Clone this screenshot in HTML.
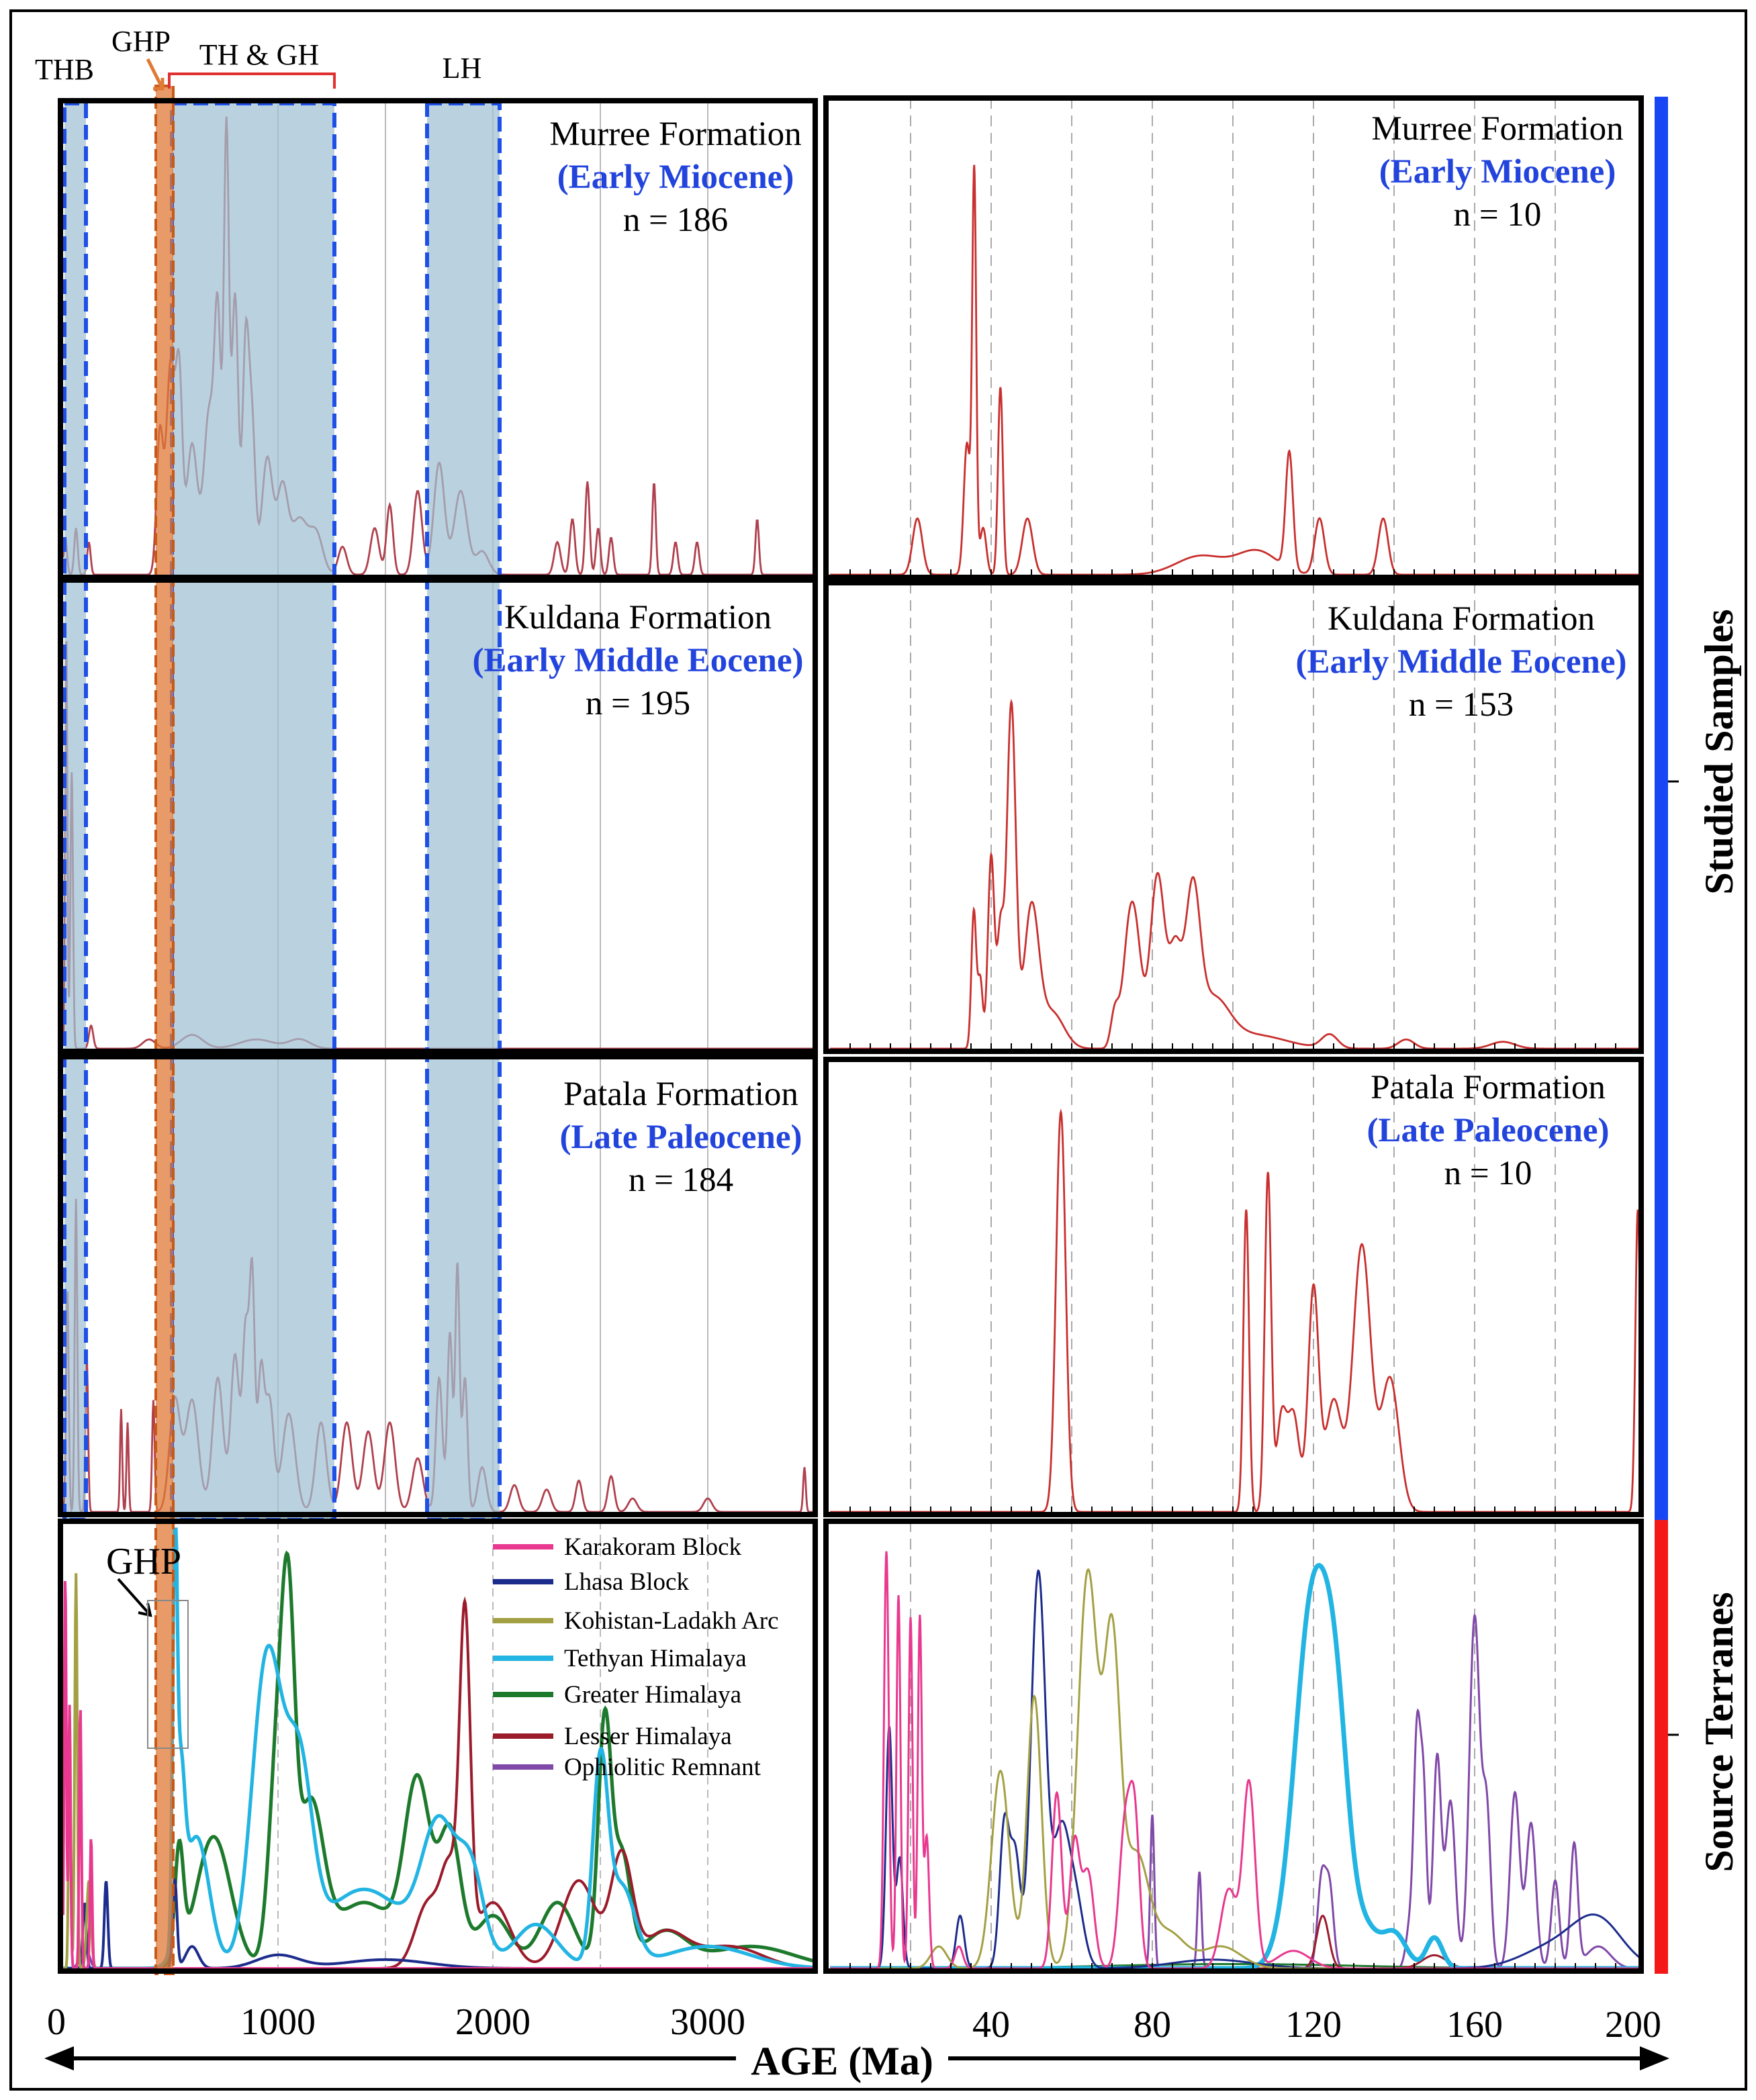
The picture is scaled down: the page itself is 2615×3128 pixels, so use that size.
<!DOCTYPE html>
<html><head><meta charset="utf-8"><style>
html,body{margin:0;padding:0;background:#fff}
svg{display:block}
text{font-family:"Liberation Serif",serif}
</style></head><body>
<svg id="chart" width="2615" height="3128" viewBox="0 0 1307.5 1564" xmlns="http://www.w3.org/2000/svg">
<rect x="8" y="8" width="1292" height="1548" fill="#fff" stroke="#000" stroke-width="2"/>
<g id="grid"></g>
<g id="curves"></g>
<g id="shading"></g>
<g id="frames"></g>
<g id="labels"></g>
</svg>
<script>
// ----- data: KDE peaks [age (Ma), relative height, width (Ma)] -----
const murreeLeftPeaks=[[10,0.08,8],[60,0.1,8],[120,0.07,8],[450,0.3,15],[500,0.45,20],[540,0.4,15],[600,0.28,25],[680,0.35,25],[720,0.5,15],[760,0.95,12],[800,0.6,15],[850,0.5,15],[880,0.3,15],[950,0.25,25],[1020,0.18,25],[1100,0.12,40],[1180,0.08,30],[1300,0.06,20],[1450,0.1,20],[1520,0.15,15],[1650,0.18,20],[1750,0.24,25],[1850,0.18,30],[1950,0.05,30],[2300,0.07,15],[2370,0.12,12],[2440,0.2,10],[2490,0.1,10],[2550,0.08,10],[2750,0.2,8],[2850,0.07,10],[2950,0.07,10],[3230,0.12,8]];
const kuldanaLeftPeaks=[[15,0.9,5],[40,0.6,6],[130,0.05,10],[400,0.02,30],[600,0.03,50],[900,0.02,80],[1100,0.02,50]];
const patalaLeftPeaks=[[20,0.5,6],[60,0.7,6],[110,0.35,6],[270,0.23,5],[300,0.2,5],[420,0.25,6],[520,0.25,25],[600,0.25,30],[720,0.3,25],[800,0.35,20],[850,0.4,15],[880,0.5,12],[920,0.3,15],[960,0.25,20],[1050,0.22,30],[1200,0.2,25],[1320,0.2,25],[1420,0.18,25],[1520,0.2,25],[1650,0.12,25],[1750,0.3,15],[1800,0.4,12],[1835,0.55,10],[1870,0.3,12],[1950,0.1,20],[2100,0.06,20],[2250,0.05,20],[2400,0.07,15],[2550,0.08,15],[2650,0.03,20],[3000,0.03,20],[3450,0.1,6]];
const karakoramLeftPeaks=[[10,0.9,5],[30,0.6,5],[80,0.6,5],[130,0.3,5]];
const lhasaLeftPeaks=[[100,0.15,8],[200,0.2,8],[520,0.2,10],[600,0.05,30],[1000,0.03,100],[1500,0.02,200]];
const kohistanLeftPeaks=[[60,0.9,6],[30,0.5,5],[120,0.2,10]];
const tethyanLeftPeaks=[[520,0.85,10],[545,0.35,20],[620,0.3,60],[950,0.7,70],[1100,0.4,60],[1400,0.18,200],[1750,0.3,80],[1900,0.2,60],[2200,0.1,100],[2500,0.45,35],[2600,0.18,60],[3000,0.05,200]];
const greaterLeftPeaks=[[540,0.25,20],[700,0.3,80],[1000,0.5,40],[1050,0.6,30],[1150,0.35,60],[1400,0.15,150],[1650,0.4,60],[1800,0.3,50],[2000,0.12,80],[2300,0.15,80],[2520,0.55,30],[2600,0.25,40],[2800,0.08,100],[3200,0.05,200]];
const lesserLeftPeaks=[[1700,0.15,60],[1870,0.75,25],[1800,0.2,40],[2000,0.15,80],[2400,0.2,80],[2600,0.25,50],[2800,0.08,100],[3100,0.05,150]];
const ophioliticLeftPeaks=[[100,0.05,20]];

const murreeRightPeaks=[[21.7,0.12,1.2],[34,0.28,0.8],[35.8,0.85,0.5],[38,0.1,0.8],[42.3,0.4,0.6],[49,0.12,1.3],[92,0.04,6],[106,0.05,5],[114,0.25,0.9],[121.5,0.12,1.2],[137.3,0.12,1.2]];
const kuldanaRightPeaks=[[35.7,0.3,0.6],[37.3,0.15,0.6],[40,0.42,0.8],[42.3,0.25,0.8],[45,0.75,1.1],[50,0.3,1.8],[55,0.08,3],[70.7,0.08,1],[74,0.2,1.5],[76,0.2,1.5],[81.3,0.38,1.8],[85.7,0.2,1.5],[90,0.32,1.8],[95,0.1,4],[105,0.03,8],[124,0.03,2],[143,0.02,2],[167,0.015,3]];
const patalaRightPeaks=[[57.3,0.9,1.2],[103.3,0.68,0.7],[108.7,0.76,0.8],[112,0.2,1.2],[115,0.22,1.5],[120,0.5,1.3],[125,0.25,2],[132,0.6,2.2],[139,0.3,2.2],[200.5,0.68,0.6]];
const karakoramRightPeaks=[[14,0.95,0.6],[17,0.85,0.5],[20,0.8,0.5],[22.3,0.8,0.5],[24,0.3,0.6],[32,0.05,1],[56.3,0.4,1.2],[60.7,0.28,1.2],[64,0.22,1.5],[73.3,0.33,1.5],[75.7,0.3,1.2],[99,0.18,2],[104,0.42,1.5],[115,0.04,4]];
const lhasaRightPeaks=[[14.7,0.55,0.8],[17.3,0.25,0.8],[32.3,0.12,1],[43.3,0.33,1.2],[46,0.25,1.2],[51.7,0.9,1.8],[57.3,0.3,2],[61,0.15,2],[95,0.02,10],[180,0.05,8],[190.7,0.1,6]];
const kohistanRightPeaks=[[27,0.05,2],[42.3,0.45,2.2],[50.7,0.62,1.8],[64,0.9,2.5],[70,0.72,2],[76,0.25,3],[84,0.08,4],[97,0.05,5]];
const tethyanRightPeaks=[[120,0.85,4.5],[126,0.35,3],[133,0.08,3],[140,0.08,3],[150,0.07,2]];
const greaterRightPeaks=[[100,0.01,30]];
const lesserRightPeaks=[[122.3,0.12,1.5],[150,0.03,3]];
const ophioliticRightPeaks=[[80,0.35,0.5],[91.7,0.22,0.5],[122,0.2,1],[124,0.18,1],[144,0.1,1],[145.7,0.5,0.8],[147.3,0.4,0.8],[150.7,0.48,1],[154,0.38,1.2],[160,0.8,1.3],[163,0.35,1],[170,0.4,1.2],[174,0.33,1.2],[180,0.2,1],[184.7,0.28,0.9],[190.7,0.05,3]];

const leftTicks=[0,1000,2000,3000];
const rightTicks=[40,80,120,160,200];
const legendNames=["Karakoram Block","Lhasa Block","Kohistan-Ladakh Arc","Tethyan Himalaya","Greater Himalaya","Lesser Himalaya","Ophiolitic Remnant"];
const legendColors=["#e8388f","#1c2c8c","#a3a043","#22b4e2","#1d7a2c","#9c1b2b","#8048a8"];

// ----- geometry -----
const NS="http://www.w3.org/2000/svg";
const xL=a=>47+a*0.16;
const xR=a=>618+a*3.0;
const leftPanels=[[75,430],[432,783],[787,1128],[1133,1468]];
const rightPanels=[[73,430],[434,783],[789,1128],[1133,1468]];
function el(tag,attrs,parent){const e=document.createElementNS(NS,tag);for(const k in attrs)e.setAttribute(k,attrs[k]);parent.appendChild(e);return e;}
function kdePath(peaks,xf,amin,amax,step,panel){
  const [top,bot]=panel,h=bot-top;let d="";
  for(let a=amin;a<=amax+1e-9;a+=step){
    let v=0;for(const p of peaks){const z=(a-p[0])/p[2];v+=p[1]*Math.exp(-0.5*z*z);}
    v=Math.min(v,1);
    d+=(d?"L":"M")+xf(a).toFixed(2)+","+(bot-2-v*(h-8)).toFixed(2);
  }
  return d;
}
const G=id=>document.getElementById(id);
const grid=G("grid"),curves=G("curves"),shading=G("shading"),frames=G("frames"),labels=G("labels");

for(const a of [1000,1500,2000,2500,3000]){
  for(const p of leftPanels){
    const g=el("line",{x1:xL(a),x2:xL(a),y1:p[0],y2:p[1],stroke:"#bbb","stroke-width":1,"stroke-dasharray":p===leftPanels[3]?"6,4":"none"},grid);
    
    
  }
}
for(let a=20;a<=180;a+=20){
  for(const p of rightPanels){
    const g=el("line",{x1:xR(a),x2:xR(a),y1:p[0],y2:p[1],stroke:"#aaa","stroke-width":1,"stroke-dasharray":"8,5"},grid);
    
    
  }
}

const sampleSets=[
 [murreeLeftPeaks,xL,0,3500,4,leftPanels[0],"murree-left-curve","#b0404e"],
 [kuldanaLeftPeaks,xL,0,3500,2,leftPanels[1],"kuldana-left-curve","#b0404e"],
 [patalaLeftPeaks,xL,0,3500,3,leftPanels[2],"patala-left-curve","#b0404e"],
 [murreeRightPeaks,xR,0,201,0.1,rightPanels[0],"murree-right-curve","#c8302e"],
 [kuldanaRightPeaks,xR,0,201,0.1,rightPanels[1],"kuldana-right-curve","#c8302e"],
 [patalaRightPeaks,xR,0,201,0.1,rightPanels[2],"patala-right-curve","#c8302e"]];
for(const s of sampleSets){
  const p=el("path",{d:kdePath(s[0],s[1],s[2],s[3],s[4],s[5]),fill:"none",stroke:s[7],"stroke-width":1.4},curves);
  
  
}
const leftSrc=[karakoramLeftPeaks,lhasaLeftPeaks,kohistanLeftPeaks,tethyanLeftPeaks,greaterLeftPeaks,lesserLeftPeaks,ophioliticLeftPeaks];
const rightSrc=[karakoramRightPeaks,lhasaRightPeaks,kohistanRightPeaks,tethyanRightPeaks,greaterRightPeaks,lesserRightPeaks,ophioliticRightPeaks];
const order=[6,4,5,3,1,2,0];
for(const i of order){
  const pl=el("path",{d:kdePath(leftSrc[i],xL,0,3500,3,leftPanels[3]),fill:"none",stroke:legendColors[i],"stroke-width":i===3||i===4?2.6:2},curves);
  
  
  const pr=el("path",{d:kdePath(rightSrc[i],xR,0,201,0.1,rightPanels[3]),fill:"none",stroke:legendColors[i],"stroke-width":i===3?3.5:1.5},curves);
  
  
}

const boxes=[[48,64,"thb-box"],[128,249,"th-gh-box"],[318,372,"lh-box"]];
for(const b of boxes){
  const r=el("rect",{x:b[0],y:77,width:b[1]-b[0],height:1055,fill:"#9fc0d3","fill-opacity":0.72,stroke:"#1e4fe6","stroke-width":3,"stroke-dasharray":"11,5"},shading);
  
  
}
const ghp=el("rect",{x:116,y:64,width:13,height:1406,fill:"#e07a35","fill-opacity":0.75,stroke:"#c85a18","stroke-width":2,"stroke-dasharray":"9,4"},shading);



for(const p of leftPanels){const r=el("rect",{x:45,y:p[0],width:562,height:p[1]-p[0],fill:"none",stroke:"#000","stroke-width":4},frames);
 }
for(const p of rightPanels){const r=el("rect",{x:615,y:p[0],width:607,height:p[1]-p[0],fill:"none",stroke:"#000","stroke-width":4},frames);
 }
for(const p of rightPanels){for(let a=5;a<200;a+=5){const t=el("line",{x1:xR(a),x2:xR(a),y1:p[1]-2,y2:p[1]-6,stroke:"#000","stroke-width":1},frames);
 }}

const sb=el("rect",{x:1232,y:72,width:10,height:1060,fill:"#1846f5"},frames);

const st=el("rect",{x:1232,y:1132,width:10,height:338,fill:"#f51818"},frames);

el("line",{x1:1242,x2:1250,y1:582,y2:582,stroke:"#000","stroke-width":1.5},frames);
el("line",{x1:1242,x2:1250,y1:1292,y2:1292,stroke:"#000","stroke-width":1.5},frames);

function txt(s,x,y,size,opts,name){const t=el("text",Object.assign({x:x,y:y,"font-size":size,"text-anchor":"middle",fill:"#000"},opts||{}),labels);t.textContent=s;
 return t;}
const blue="#2244dd";
const FS=25.5;
txt("Murree Formation",503,108,FS,{},"murree-left-title");
txt("(Early Miocene)",503,140,FS,{fill:blue,"font-weight":"bold"},"murree-left-age");
txt("n = 186",503,172,FS,{},"murree-left-n");
txt("Kuldana Formation",475,468,FS,{},"kuldana-left-title");
txt("(Early Middle Eocene)",475,500,FS,{fill:blue,"font-weight":"bold"},"kuldana-left-age");
txt("n = 195",475,532,FS,{},"kuldana-left-n");
txt("Patala Formation",507,823,FS,{},"patala-left-title");
txt("(Late Paleocene)",507,855,FS,{fill:blue,"font-weight":"bold"},"patala-left-age");
txt("n = 184",507,887,FS,{},"patala-left-n");
txt("Murree Formation",1115,104,FS,{},"murree-right-title");
txt("(Early Miocene)",1115,136,FS,{fill:blue,"font-weight":"bold"},"murree-right-age");
txt("n = 10",1115,168,FS,{},"murree-right-n");
txt("Kuldana Formation",1088,469,FS,{},"kuldana-right-title");
txt("(Early Middle Eocene)",1088,501,FS,{fill:blue,"font-weight":"bold"},"kuldana-right-age");
txt("n = 153",1088,533,FS,{},"kuldana-right-n");
txt("Patala Formation",1108,818,FS,{},"patala-right-title");
txt("(Late Paleocene)",1108,850,FS,{fill:blue,"font-weight":"bold"},"patala-right-age");
txt("n = 10",1108,882,FS,{},"patala-right-n");

txt("THB",48,59,22,{},"thb-label");
txt("GHP",105,38,22,{},"ghp-label");
txt("TH & GH",193,48,22,{},"th-gh-label");
txt("LH",344,58,22,{},"lh-label");
el("path",{d:"M126,66 V55 H249 V66",fill:"none",stroke:"#e03030","stroke-width":2},labels);
el("path",{d:"M110,44 L121,66 M114,66 L121,66 L121,58",fill:"none",stroke:"#e07a35","stroke-width":2.5},labels);

for(let i=0;i<legendNames.length;i++){
  const y=[1152,1178,1207,1235,1262,1293,1316][i];
  const l=el("line",{x1:367,x2:412,y1:y,y2:y,stroke:legendColors[i],"stroke-width":4},labels);
  
  txt(legendNames[i],420,y+6,18.5,{"text-anchor":"start"},"legend-entry");
}
txt("GHP",107,1172,28,{},"ghp-source-label");
el("path",{d:"M88,1176 L112,1203 M103,1201 L112,1203 L110,1194",fill:"none",stroke:"#000","stroke-width":2},labels);
el("rect",{x:110,y:1192,width:30,height:110,fill:"none",stroke:"#888","stroke-width":1},labels);

for(const a of leftTicks) txt(String(a),xL(a)-(a===0?5:0),1515,28,{},"left-x-tick-label");
for(const a of rightTicks) txt(String(a),xR(a)-(a===200?2:0),1517,28,{},"right-x-tick-label");
el("line",{x1:45,x2:1230,y1:1533,y2:1533,stroke:"#000","stroke-width":3},labels);
el("path",{d:"M33,1533 L55,1524 L55,1542 Z M1243,1533 L1221,1524 L1221,1542 Z",fill:"#000"},labels);
el("rect",{x:548,y:1516,width:158,height:34,fill:"#fff"},labels);
txt("AGE (Ma)",627,1545,30,{"font-weight":"bold"},"x-axis-title");
txt("Studied Samples",1290,560,30,{"font-weight":"bold",transform:"rotate(-90 1290 560)"},"studied-samples-title");
txt("Source Terranes",1290,1290,30,{"font-weight":"bold",transform:"rotate(-90 1290 1290)"},"source-terranes-title");
</script>
</body></html>
